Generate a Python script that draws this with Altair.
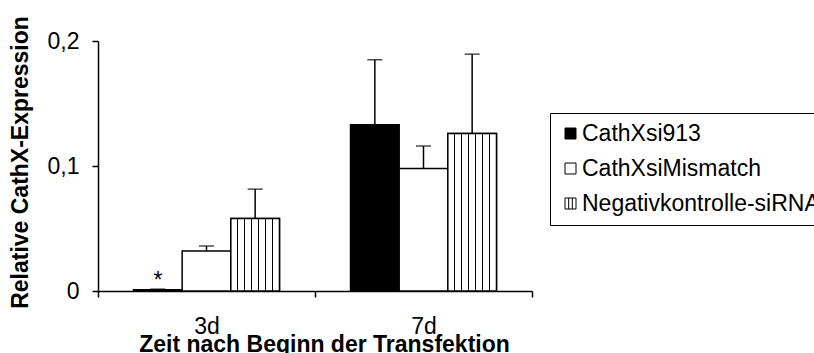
import altair as alt
import pandas as pd

# Relative CathX expression after siRNA transfection (mean and upper SD)
times = ["3d", "7d"]
series = ["CathXsi913", "CathXsiMismatch", "Negativkontrolle-siRNA"]
mean_3d = [0.001, 0.032, 0.058]
mean_7d = [0.133, 0.098, 0.126]
sd_3d = [0.0005, 0.004, 0.0235]
sd_7d = [0.052, 0.018, 0.0635]
notes_3d = ["*", "", ""]
notes_7d = ["", "", ""]

rows = []
for t, means, sds, notes in [("3d", mean_3d, sd_3d, notes_3d), ("7d", mean_7d, sd_7d, notes_7d)]:
    for s, m, e, n in zip(series, means, sds, notes):
        rows.append({"Zeit": t, "Gruppe": s, "Wert": m, "Oben": m + e, "Notiz": n})
df = pd.DataFrame(rows)

FONT = "Liberation Sans"
FS = 23

# vertical hatching for the negative-control bars, built as a hard-stop gradient
stops = [alt.GradientStop(color="white", offset=0)]
cells = 7
half = 0.012
for k in range(1, cells):
    o = k / cells
    stops += [
        alt.GradientStop(color="white", offset=o - half),
        alt.GradientStop(color="black", offset=o - half),
        alt.GradientStop(color="black", offset=o + half),
        alt.GradientStop(color="white", offset=o + half),
    ]
stops.append(alt.GradientStop(color="white", offset=1))
hatch = alt.LinearGradient(gradient="linear", stops=stops, x1=0, x2=1, y1=0, y2=0)

x_enc = alt.X(
    "Zeit:N",
    sort=times,
    scale=alt.Scale(domain=times, paddingInner=0, paddingOuter=0),
    axis=alt.Axis(
        title="Zeit nach Beginn der Transfektion",
        labelAngle=0,
        tickBand="extent",
        tickSize=6,
        labelPadding=18,
        labelFontSize=FS,
        titleFontSize=FS,
        titleFontWeight="bold",
        titlePadding=-5,
        titleX=226,
    ),
)
xo_enc = alt.XOffset(
    "Gruppe:N",
    sort=series,
    scale=alt.Scale(domain=series, paddingInner=0, paddingOuter=0.73),
)
y_scale = alt.Scale(domain=[0, 0.2], nice=False, zero=True)
y_enc = alt.Y(
    "Wert:Q",
    scale=y_scale,
    axis=alt.Axis(
        title="Relative CathX-Expression",
        values=[0, 0.1, 0.2],
        labelExpr="datum.value == 0 ? '0' : replace(format(datum.value, '.1f'), '.', ',')",
        tickSize=6,
        labelPadding=13,
        labelFontSize=FS,
        titleFontSize=FS,
        titleFontWeight="bold",
        titlePadding=15,
        titleY=121,
    ),
)

fill_scale = alt.Scale(domain=series, range=["black", "white", "white"])
edge_scale = alt.Scale(domain=series, range=["black", "black", "black"])
shape_scale = alt.Scale(
    domain=series,
    range=["square", "square", "M-1,-1H1V1H-1Z M-0.33,-1V1 M0.33,-1V1"],
)

base = alt.Chart(df)

bars = base.mark_bar(stroke="black", strokeWidth=1.5).encode(
    x=x_enc,
    xOffset=xo_enc,
    y=y_enc,
    fill=alt.condition(alt.datum.Gruppe == series[0], alt.value("black"), alt.value("white")),
)

hatched = base.transform_filter(
    alt.datum.Gruppe == series[2]
).mark_bar(fill=hatch, stroke="black", strokeWidth=1.5).encode(
    x=x_enc, xOffset=xo_enc, y=y_enc
)

err_rule = base.mark_rule(color="black", strokeWidth=1.5).encode(
    x=x_enc, xOffset=xo_enc, y=y_enc, y2="Oben:Q"
)
err_cap = base.mark_tick(color="black", thickness=1.5, size=15, orient="horizontal").encode(
    x=x_enc, xOffset=xo_enc, y=alt.Y("Oben:Q", scale=y_scale)
)

note = base.transform_filter(alt.datum.Notiz != "").mark_text(
    font=FONT, fontSize=FS, color="black", baseline="alphabetic", dy=-1
).encode(x=x_enc, xOffset=xo_enc, y=alt.Y("Oben:Q", scale=y_scale), text="Notiz:N")

legend = alt.Legend(
    title=None,
    orient="none",
    legendX=452,
    legendY=72,
    strokeColor="black",
    padding=9,
    labelFont=FONT,
    labelFontSize=FS,
    labelColor="black",
    labelLimit=400,
    symbolSize=121,
    symbolStrokeWidth=1,
    symbolOpacity=1,
    rowPadding=11,
    labelOffset=0,
)
key = base.mark_point(filled=True, opacity=0, strokeWidth=1).encode(
    x=x_enc,
    xOffset=xo_enc,
    y=y_enc,
    fill=alt.Fill("Gruppe:N", scale=fill_scale, legend=legend, sort=series),
    stroke=alt.Stroke("Gruppe:N", scale=edge_scale, legend=legend, sort=series),
    shape=alt.Shape("Gruppe:N", scale=shape_scale, legend=legend, sort=series),
)

chart = (
    alt.layer(bars, hatched, err_rule, err_cap, note, key)
    .properties(
        width=434,
        height=250,
        autosize=alt.AutoSizeParams(type="none"),
        padding={"left": 98, "top": 41, "right": 282, "bottom": 62},
        background="white",
    )
    .configure_view(stroke=None)
    .configure_axis(
        grid=False,
        domainColor="black",
        domainWidth=1.5,
        tickColor="black",
        tickWidth=1.5,
        labelColor="black",
        titleColor="black",
        labelFont=FONT,
        titleFont=FONT,
    )
)

chart.save("out.html", embed_options={"renderer": "svg", "actions": False})
